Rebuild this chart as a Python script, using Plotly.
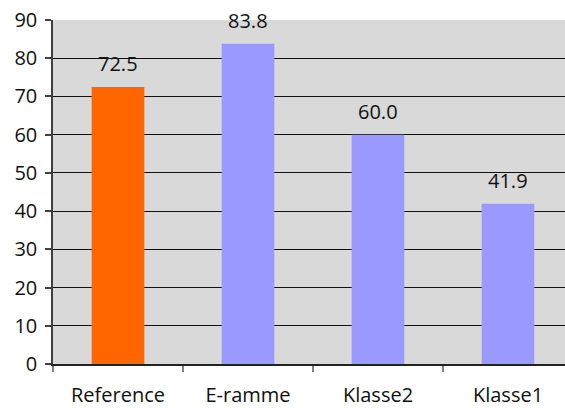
import plotly.graph_objects as go

categories = ["Reference", "E-ramme", "Klasse2", "Klasse1"]
values = [72.5, 83.8, 60.0, 41.9]
bar_colors = ["#FF6600", "#9999FF", "#9999FF", "#9999FF"]
y_ticks = [0, 10, 20, 30, 40, 50, 60, 70, 80, 90]

FONT = "Open Sans"

fig = go.Figure()
fig.add_trace(go.Bar(
    x=categories, y=values, marker=dict(color=bar_colors, line=dict(width=0)),
    width=0.405, hoverinfo="skip",
))

for c, v in zip(categories, values):
    fig.add_annotation(x=c, y=v, text=f"{v:.1f}", showarrow=False,
                       yanchor="bottom", yshift=8,
                       font=dict(family=FONT, size=20, color="#111111"))

fig.update_layout(
    width=565, height=408,
    margin=dict(l=53, r=0, t=20, b=44, autoexpand=False),
    paper_bgcolor="white", plot_bgcolor="#D9D9D9",
    showlegend=False,
    font=dict(family=FONT, size=20, color="#111111"),
)
fig.update_xaxes(
    type="category", range=[-0.5, -0.5 + 512 / 130], automargin=False,
    tickson="boundaries", ticks="outside", ticklen=6, tickcolor="#808080",
    tickwidth=1.5, ticklabelstandoff=12, ticklabeloverflow="allow",
    showline=True, linecolor="#222222", linewidth=1.5,
    showgrid=False, tickfont=dict(family=FONT, size=20),
)
fig.update_yaxes(
    range=[0, 90], tickvals=y_ticks, ticks="outside", ticklen=6,
    tickcolor="#404040", tickwidth=1.5, automargin=False,
    showline=True, linecolor="#404040", linewidth=1.5,
    showgrid=True, gridcolor="#111111", gridwidth=1,
    zeroline=False, ticklabelstandoff=4, ticklabeloverflow="allow",
    tickfont=dict(family=FONT, size=20),
)
fig.write_html("out.html", config={"displayModeBar": False},
               post_script="document.body.style.margin='0';")
